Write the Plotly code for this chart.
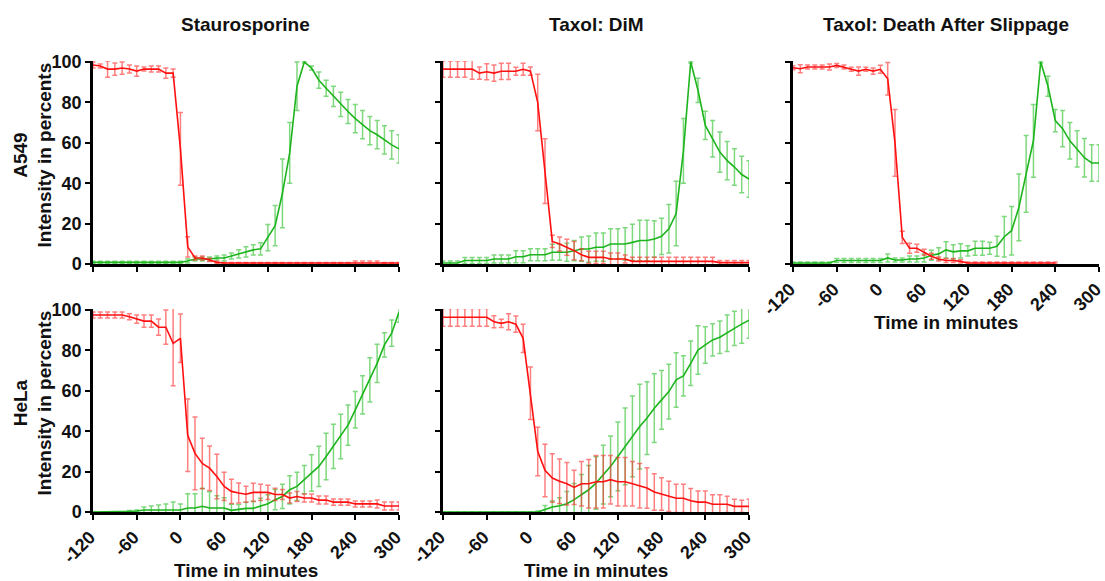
import plotly.graph_objects as go

# ---------------- data ----------------
time_min = list(range(-120, 301, 10))  # 43 time points

# A549 - Staurosporine
sts_a549_red = [98.5, 98, 96.5, 96.5, 97, 96.5, 95.5, 96.5, 96.5, 96.5, 94.5, 94.5, 57,
                8.5, 3, 3, 2, 0.8] + [0.5] * 25
sts_a549_red_err = [1.5, 1, 4, 3, 3, 2, 2.5, 1, 1.5, 1.5, 2.5, 2, 18,
                    5, 1, 1, 0.8, 0.5] + [0.3] * 18 + [1, 1, 1, 1] + [0.3] * 3
sts_a549_green = [0.8] * 13 + [1.5, 2.5, 2.5, 2.5, 3, 3, 4, 5, 6, 7, 7.5, 13, 19, 35, 55, 88, 100,
                               97, 91, 87, 83, 79, 75.5, 72, 69, 66, 64, 61.5, 59, 57]
sts_a549_green_err = [0.5] * 13 + [1, 1, 1, 1, 1, 1.5, 1.5, 2, 2.5, 2.5, 3, 6.5, 10, 17, 15, 12, 0.5,
                                   1, 4, 4, 5, 6, 6, 7, 7, 7, 7, 7, 7, 7]

# A549 - Taxol: DiM
dim_a549_red = [96.5, 96.5, 96.5, 96.5, 96.5, 94.5, 95.2, 94.5, 95.4, 95.4, 95.4, 96.4, 95.5,
                80, 46, 11.2, 9.9, 8.3, 6.6, 4.6, 3.3, 3.3, 3.3, 2.5, 2.5, 2.5, 1.3] + [1.3] * 11 + [0.7] * 5
dim_a549_red_err = [4, 4, 4, 4, 5, 3, 4, 4, 4, 4, 2, 3, 2,
                    14, 16, 3, 3.5, 4, 4.5, 3, 3, 3, 3, 3, 3, 2] + [2] * 12 + [1] * 5
dim_a549_green = [0.5, 0.5, 0.5, 1.7, 1.7, 1.7, 1.7, 2.5, 2.5, 2.5, 3.6, 3.6, 4.6,
                  4.6, 4.6, 5.8, 5.8, 5.8, 6.6, 7.4, 7.4, 8.3, 8.3, 9.9, 9.9, 9.9, 10.7, 11.6, 11.6,
                  12.4, 13.7, 17.4, 25, 56, 100, 86, 68.6, 62, 55.4, 51.2, 48, 44.3, 42.1]
dim_a549_green_err = [1, 1, 1, 1.5, 1.5, 1.5, 1.5, 2, 2, 2, 3, 3, 3,
                      3, 3, 4, 4, 4.5, 5, 6, 6.5, 7, 7, 7.5, 7.5, 8, 9, 10, 10,
                      9, 9, 12, 16, 16, 0.5, 6, 7, 9, 10, 9.5, 9, 9, 9]

# A549 - Taxol: Death After Slippage
das_a549_red = [97.2, 96.7, 97.5, 97.5, 97.5, 97.5, 98.3, 97.5, 96.4, 95.5, 96.4, 95.5, 96.4,
                91.7, 60, 13.2, 7.8, 7.8, 5.8, 3.8, 2.5, 1.7, 1.7, 1.3, 0.5] + [0.5] * 12 + [None] * 6
das_a549_red_err = [1, 2, 1, 1, 1, 1.5, 1, 1, 1, 2, 1, 1.5, 2,
                    8, 16.5, 3, 2.5, 2, 1.5, 1.5, 1, 1, 1, 0.8, 0.5] + [0.5] * 12 + [0] * 6
das_a549_green = [0.5] * 6 + [1.7] * 6 + [1.7,
                  3, 2, 2, 2.5, 2.5, 3, 4.3, 5, 7, 6, 6.5, 6.5, 7.8, 7.8, 7.8, 8.8, 13.5, 16.5, 28,
                  44.6, 61, 100, 88, 71, 67, 61, 57, 52.6, 50, 50]
das_a549_green_err = [0.5] * 6 + [1] * 6 + [1,
                      2, 1, 1, 1.5, 1.5, 2, 2.5, 3, 4, 3.5, 3.5, 2.5, 3.5, 3.5, 3, 5, 10, 12, 16.5,
                      19, 18, 0.5, 5, 5.5, 9, 9, 9, 9.5, 9, 9]

# HeLa - Staurosporine
sts_hela_red = [97.5, 97.5, 97.5, 97.5, 97.5, 96.7, 95.5, 94.5, 94.5, 91.5, 91.5, 83.5, 86,
                38, 29, 24, 21.7, 17.6, 12.7, 10.2, 9.4, 8.8, 9.7, 9.7, 9.7, 8.7, 8.7, 6.9, 7.7,
                6.9, 6.9, 5.9, 5.9, 4.9, 4.9, 4.9, 4, 4, 4, 4, 3, 3, 3]
sts_hela_red_err = [1.5, 1.5, 1.5, 1.5, 1.5, 1.5, 2, 3, 3, 4, 8.5, 21, 12,
                    18, 18, 12.5, 11, 11, 7, 6, 5, 4, 4.5, 4, 3.5, 3, 2.5, 2.5, 2.5,
                    2, 2, 2, 2, 1.5, 1.5, 1.5, 1.5, 1.5, 1.5, 2, 2, 2, 2]
sts_hela_green = [0, 0, 0, 0, 0, 0.3, 0.5, 1, 1, 1, 1, 1, 1,
                  2, 2, 2.8, 2, 2, 2, 0.8, 1.2, 1.8, 1.8, 2.8, 4.1, 6.1, 7.7, 11, 12.7, 16, 19.3,
                  22.6, 27.5, 32.5, 37.4, 43, 50.6, 58, 65.4, 73.6, 82.7, 88.5, 99]
sts_hela_green_err = [0, 0, 0, 0, 0, 0.5, 0.5, 1.5, 2, 2.5, 3, 4, 3,
                      7, 7, 9, 8, 6, 5, 3, 2.5, 3, 3.5, 4, 4.5, 5, 6, 7, 7, 7, 9,
                      10, 11.5, 11, 11, 10, 9, 9.5, 11, 9.5, 6, 6.5, 5]

# HeLa - Taxol: DiM
dim_hela_red = [96.4] * 7 + [94.2, 93.4, 94.2, 93, 86, 58.8,
                30, 20.6, 16.8, 15.2, 14, 12.2, 14, 14, 15, 15, 16, 15, 15, 14, 13, 11.9, 9.9,
                8.9, 7.7, 6.8, 6.8, 5.6, 4.9, 4.9, 3.8, 3.8, 3.8, 2.8, 2.8, 2.8]
dim_hela_red_err = [4.4] * 7 + [3, 2, 4, 4, 7, 13,
                    12, 13, 12, 11, 10.5, 8.5, 11, 12, 13, 13, 12, 12, 12, 11, 11, 10, 9,
                    8, 7.5, 7, 7, 6, 5.5, 5.5, 4.7, 4.7, 4, 3.5, 3, 3.5]
dim_hela_green = [0] * 14 + [1.2, 2.5, 3.1, 4.1, 6.1, 8.6, 11, 14.3, 18.5, 22.6, 27.5, 32.5, 37.4,
                             42.3, 46.5, 51.4, 55.5, 59.6, 65.4, 67.4, 73.6, 80.2, 82.7, 85.2, 86.5,
                             88.5, 90.9, 93, 95]
dim_hela_green_err = [0] * 13 + [0.5, 2, 3, 4, 6, 8, 10, 12, 13, 14.5, 15, 17, 19, 20,
                                 21, 18, 17, 14.5, 13.5, 13.5, 10, 11, 12, 9, 8, 8, 9, 8.5, 9.5, 9]

col_titles = ["Staurosporine", "Taxol: DiM", "Taxol: Death After Slippage"]
row_titles = ["A549<br>Intensity in percents", "HeLa<br>Intensity in percents"]
x_title = "Time in minutes"
x_ticks = [-120, -60, 0, 60, 120, 180, 240, 300]
y_ticks = [0, 20, 40, 60, 80, 100]

# ---------------- styling ----------------
W, H = 1105, 581
RED = "#FF1010"
GREEN = "#1DB41D"
RED_ERR = "rgba(255,40,40,0.6)"
GREEN_ERR = "rgba(40,190,40,0.6)"
FONT = "Liberation Sans, Arial, sans-serif"
TXT = "#111111"

# panel pixel boxes: (left, right, top, bottom)
col_px = [(93, 399), (443, 749), (793, 1099)]
row_px = [(61, 264), (309, 512)]

panels = [
    # (row, col, red, red_err, green, green_err, show_x_labels, show_y_labels)
    (0, 0, sts_a549_red, sts_a549_red_err, sts_a549_green, sts_a549_green_err, False, True),
    (0, 1, dim_a549_red, dim_a549_red_err, dim_a549_green, dim_a549_green_err, False, False),
    (0, 2, das_a549_red, das_a549_red_err, das_a549_green, das_a549_green_err, True, False),
    (1, 0, sts_hela_red, sts_hela_red_err, sts_hela_green, sts_hela_green_err, True, True),
    (1, 1, dim_hela_red, dim_hela_red_err, dim_hela_green, dim_hela_green_err, True, False),
]

fig = go.Figure()
layout = {}
annotations = []

for i, (r, c, red, red_e, green, green_e, showx, showy) in enumerate(panels):
    n = "" if i == 0 else str(i + 1)
    xa, ya = "x" + n, "y" + n
    for vals, errs, col, ecol in ((green, green_e, GREEN, GREEN_ERR), (red, red_e, RED, RED_ERR)):
        fig.add_trace(go.Scatter(
            x=time_min, y=vals, mode="lines", xaxis=xa, yaxis=ya,
            line=dict(color=col, width=1.6), showlegend=False, connectgaps=False,
            error_y=dict(type="data", array=errs, visible=True, color=ecol, thickness=1.5, width=2.5),
        ))
    l, rr = col_px[c]
    t, b = row_px[r]
    layout["xaxis" + n] = dict(
        domain=[l / W, rr / W], anchor=ya, range=[-120, 300],
        tickmode="array", tickvals=x_ticks, ticktext=[str(v) for v in x_ticks],
        showticklabels=showx, tickangle=-45, ticklabeloverflow="allow", ticklabelshift=-3,
        tickfont=dict(family=FONT, size=18, color=TXT, weight="bold"),
        ticks="outside", ticklen=5, tickwidth=2, tickcolor="black",
        showline=True, linewidth=2.5, linecolor="black",
        showgrid=False, zeroline=False, automargin=False, fixedrange=True,
    )
    layout["yaxis" + n] = dict(
        domain=[1 - b / H, 1 - t / H], anchor=xa, range=[0, 100.5],
        tickmode="array", tickvals=y_ticks, showticklabels=showy,
        tickfont=dict(family=FONT, size=18, color=TXT, weight="bold"),
        ticks="outside", ticklen=5, tickwidth=2, tickcolor="black",
        showline=True, linewidth=2.5, linecolor="black",
        showgrid=False, zeroline=False, automargin=False, fixedrange=True,
    )
    if showx:
        annotations.append(dict(
            text=x_title, xref="paper", yref="paper",
            x=(l + rr) / 2 / W, y=1 - (b + 58) / H, showarrow=False,
            xanchor="center", yanchor="middle",
            font=dict(family=FONT, size=19, color=TXT, weight="bold"),
        ))

for c, title in enumerate(col_titles):
    l, rr = col_px[c]
    annotations.append(dict(
        text=title, xref="paper", yref="paper", x=(l + rr) / 2 / W, y=1 - 24 / H,
        showarrow=False, xanchor="center", yanchor="middle",
        font=dict(family=FONT, size=19, color=TXT, weight="bold"),
    ))

for r, title in enumerate(row_titles):
    t, b = row_px[r]
    annotations.append(dict(
        text=title, xref="paper", yref="paper", x=32 / W, y=1 - ((t + b) / 2 - 7) / H,
        showarrow=False, xanchor="center", yanchor="middle", textangle=-90,
        font=dict(family=FONT, size=19, color=TXT, weight="bold"),
    ))

fig.update_layout(
    width=W, height=H, margin=dict(l=0, r=0, t=0, b=0),
    paper_bgcolor="white", plot_bgcolor="white",
    annotations=annotations, **layout,
)

fig.write_html("out.html", config={"displayModeBar": False},
               post_script="document.body.style.margin='0px';")
